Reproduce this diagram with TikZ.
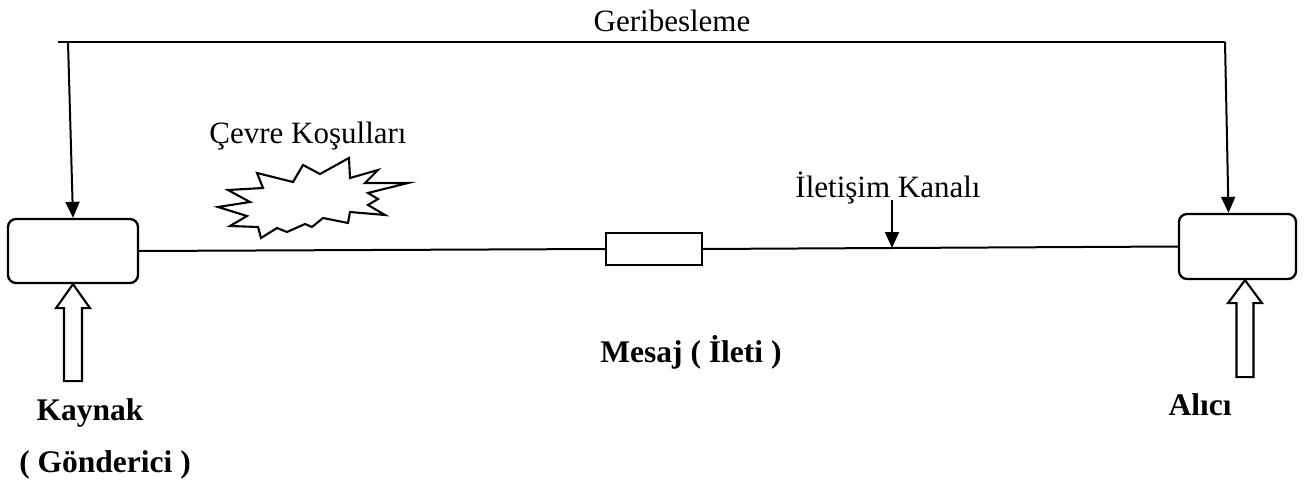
\documentclass[tikz,border=0pt]{standalone}
\usepackage{fontspec}
\setmainfont{Liberation Serif}
\usetikzlibrary{arrows.meta}

\tikzset{
  unit/.style={draw, line width=2.3pt, rounded corners=8pt, minimum width=#1, inner sep=0pt},
  msgbox/.style={draw, line width=2.1pt, minimum width=96pt, minimum height=32pt, inner sep=0pt},
  wire/.style={line width=2pt},
  feed/.style={line width=2pt, -{Triangle[width=14pt,length=16pt]}},
  hollow/.style={draw, line width=2.1pt, line join=miter, fill=white},
  burst/.style={draw, line width=2.1pt, line join=miter},
  plain/.style={font=\fontsize{31}{37}\selectfont, inner sep=0pt, anchor=base},
  heavy/.style={font=\fontsize{31.5}{38}\selectfont\bfseries, inner sep=0pt, anchor=base}
}

\begin{document}
\begin{tikzpicture}[x=1pt, y=-1pt]
  \useasboundingbox[fill=white] (0,0) rectangle (1304,484);

  % sender, message and receiver on the channel
  \node[unit=130pt, minimum height=64pt] (src) at (73,251) {};
  \node[unit=117pt, minimum height=65pt] (dst) at (1237.5,246.5) {};
  \node[msgbox] (msg) at (654,249) {};

  \draw[wire] (src.east) -- (msg.west);
  \draw[wire] (msg.east) -- (dst.west);

  % feedback loop over the top
  \coordinate (fbStart) at (58,42);
  \coordinate (fbL) at (68,42);
  \coordinate (fbR) at (1225,42);
  \draw[wire] (fbStart) -- (fbR);
  \draw[feed] (fbL) -- (src.north);
  \draw[feed] (fbR) -- ([xshift=-9pt]dst.north);
  \node[plain] (geri) at (672,32) {Geribesleme};

  % channel pointer
  \coordinate (kTop) at (892,200);
  \coordinate (kBot) at (892,248);
  \draw[feed] (kTop) -- (kBot);
  \node[plain] (kanal) at (888,197) {İletişim Kanalı};

  % environmental noise
  \node[plain] (cevre) at (308,143) {Çevre Koşulları};
  \draw[burst] (218,207) -- (247,216) -- (230,226) -- (258,227) -- (261,238)
    -- (277,228) -- (287,232) -- (305,224) -- (312,227) -- (323,218)
    -- (348,223) -- (350,212) -- (385,215) -- (368,205) -- (378,199)
    -- (368,193) -- (408,183) -- (365,183) -- (378,170) -- (350,178)
    -- (349,158) -- (320,174) -- (303,165) -- (293,182) -- (257,173)
    -- (263,188) -- (228,190) -- (250,202) -- cycle;

  % hollow input arrows under both units
  \draw[hollow] (src.south) -- ++(17,24) -- ++(-8,0) -- ++(0,73) -- ++(-18,0)
    -- ++(0,-73) -- ++(-8,0) -- cycle;
  \draw[hollow] ([xshift=7.5pt]dst.south) -- ++(17,23) -- ++(-8.5,0) -- ++(0,74)
    -- ++(-17,0) -- ++(0,-74) -- ++(-8.5,0) -- cycle;

  % labels
  \node[heavy] (mesaj) at (691,362) {Mesaj ( İleti )};
  \node[heavy] (kaynak) at (90,420) {Kaynak};
  \node[heavy] (gonderici) at (105,472) {( Gönderici )};
  \node[heavy] (alici) at (1200,415) {Alıcı};
\end{tikzpicture}
\end{document}
